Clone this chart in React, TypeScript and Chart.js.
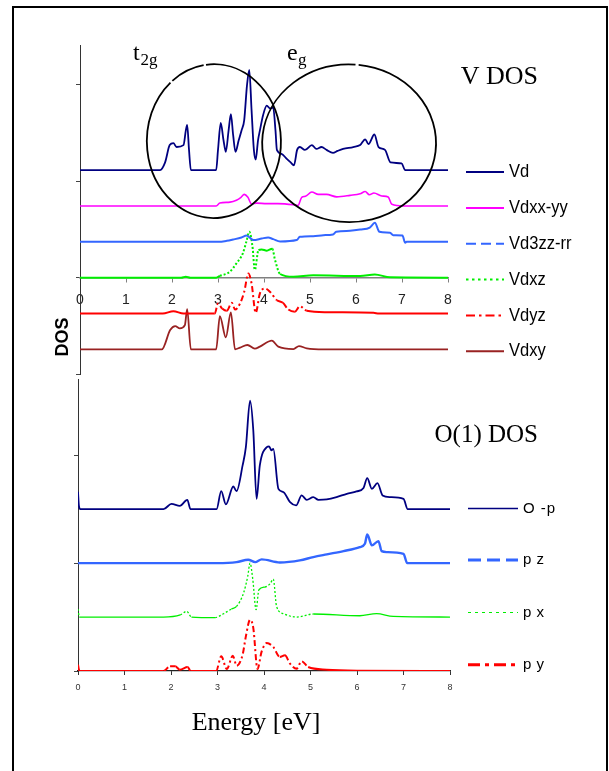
import React, { useEffect, useRef } from 'react';
import { Chart, registerables } from 'chart.js';

Chart.register(...registerables);

type Pt = [number, number];

// ---------- shared energy axis ----------
const energyMin = 0;
const energyMax = 8;

// ---------- V DOS panel (values relative to each curve's own baseline) ----------
const vLabels = ['Vd', 'Vdxx-yy', 'Vd3zz-rr', 'Vdxz', 'Vdyz', 'Vdxy'];
const vOffsets = [11.16, 7.44, 3.72, 0, -3.72, -7.44];

const vd: Pt[] = [
  [0, 0], [1.74, 0], [1.85, 0.8], [1.95, 2.6], [2.03, 2.8], [2.1, 2.4], [2.25, 2.6], [2.3, 4.1], [2.33, 4.7],
  [2.37, 2.1], [2.41, 0], [2.96, 0], [3.0, 2.1], [3.06, 4.9], [3.12, 3.1], [3.17, 1.9], [3.23, 4.1], [3.28, 5.8],
  [3.33, 3.6], [3.38, 1.9], [3.45, 3.1], [3.51, 4.1], [3.57, 5.2], [3.63, 8.8], [3.68, 10.4], [3.73, 6.2],
  [3.78, 2.1], [3.82, 1.1], [3.87, 3.1], [3.91, 4.1], [3.98, 5.7], [4.06, 6.7], [4.13, 6.4], [4.2, 6.5],
  [4.25, 4.1], [4.28, 2.1], [4.38, 1.7], [4.49, 1.2], [4.58, 0.8], [4.65, 0.5], [4.72, 2.1], [4.78, 2.4],
  [4.89, 2.1], [5.04, 2.6], [5.14, 2.2], [5.25, 2.4], [5.36, 2.1], [5.5, 1.8], [5.6, 2.0], [5.72, 2.2],
  [5.94, 2.4], [6.09, 2.6], [6.2, 3.2], [6.27, 2.7], [6.4, 3.7], [6.49, 2.4], [6.63, 2.1], [6.75, 0.8],
  [6.99, 0.7], [7.07, 0], [8, 0],
];
const vdxxyy: Pt[] = [
  [0, 0], [2.96, 0], [3.04, 0.3], [3.26, 0.4], [3.4, 0.6], [3.5, 0.9], [3.57, 1.2], [3.65, 0.9], [3.73, 0.2],
  [3.84, 0.3], [4.06, 0.25], [4.3, 0.25], [4.64, 0.13], [4.74, 0.05], [4.82, 0.9], [4.9, 1.0], [5.04, 1.45],
  [5.18, 1.2], [5.36, 1.2], [5.58, 0.95], [5.87, 1.1], [6.09, 1.27], [6.2, 1.5], [6.29, 1.17], [6.39, 1.35],
  [6.56, 1.04], [6.7, 0.93], [6.78, 0.17], [7.03, 0], [8, 0],
];
const vd3zzrr: Pt[] = [
  [0, 0], [3.0, 0], [3.19, 0.1], [3.33, 0.24], [3.51, 0.45], [3.62, 0.65], [3.77, 0.18], [3.95, 0.34],
  [4.09, 0.45], [4.2, 0.28], [4.35, 0.03], [4.71, 0.18], [4.78, 0.52], [5.07, 0.59], [5.29, 0.69], [5.5, 0.76],
  [5.57, 1.04], [5.87, 1.14], [6.09, 1.27], [6.3, 1.48], [6.41, 1.97], [6.51, 1.04], [6.74, 0.93], [6.81, 0.69],
  [7.01, 0.65], [7.07, -0.1], [7.1, 0], [8, 0],
];
const vdxz: Pt[] = [
  [0, 0], [2.2, 0], [2.3, 0.1], [2.4, 0], [2.96, 0], [3.04, 0.18], [3.26, 0.62], [3.4, 1.48], [3.54, 2.52],
  [3.62, 3.8], [3.68, 4.77], [3.75, 3.21], [3.8, 0.8], [3.88, 2.87], [3.95, 2.93], [4.06, 2.8], [4.18, 3.0],
  [4.24, 1.83], [4.35, 0.38], [4.64, 0.1], [5.07, 0.24], [6.09, 0.18], [6.41, 0.34], [6.74, 0.03], [8, 0],
];
const vdyz: Pt[] = [
  [0, 0], [1.8, 0], [2.03, 0.24], [2.25, 0], [2.93, 0], [3.0, 1.04], [3.09, 0.52], [3.19, 0.28], [3.3, 1.11],
  [3.37, 0.41], [3.48, 1.04], [3.57, 2.25], [3.66, 4.15], [3.73, 3.11], [3.82, 0.07], [3.91, 2.07], [4.02, 2.59],
  [4.13, 2.25], [4.28, 1.38], [4.41, 1.11], [4.53, 0.41], [4.67, 0.18], [4.78, 0.76], [4.93, 0.28], [5.36, 0.13],
  [6.38, 0.07], [6.5, 0], [8, 0],
];
const vdxy: Pt[] = [
  [0, 0], [1.78, 0], [1.96, 2.0], [2.07, 2.41], [2.17, 2.18], [2.28, 2.52], [2.33, 4.18], [2.41, 0], [2.96, 0],
  [3.04, 3.45], [3.17, 1.24], [3.28, 3.83], [3.37, 0], [3.48, 0.18], [3.64, 0.45], [3.8, 0.07], [3.91, 0.28],
  [4.17, 0.9], [4.31, 0.28], [4.64, 0.03], [4.76, 0.34], [4.93, 0.1], [5.3, 0], [8, 0],
];

// ---------- O(1) DOS panel ----------
const oLabels = ['O -p', 'p z', 'p x', 'p y'];
const oOffsets = [15, 10, 5, 0];

const op: Pt[] = [
  [0, 1.6], [0.02, 0.3], [0.05, 0], [1.84, 0], [2.01, 0.49], [2.19, 0.31], [2.35, 0.86], [2.42, 0], [2.98, 0],
  [3.08, 1.67], [3.18, 0.44], [3.34, 2.1], [3.41, 1.67], [3.54, 4.05], [3.61, 5.74], [3.7, 10.06], [3.77, 7.29],
  [3.84, 0.95], [3.91, 4.05], [4.06, 5.74], [4.11, 5.81], [4.16, 5.44], [4.2, 5.58], [4.31, 1.88], [4.42, 1.57],
  [4.56, 0.65], [4.69, 0.34], [4.81, 1.27], [4.92, 0.86], [5.06, 1.11], [5.17, 0.86], [5.35, 0.9], [5.56, 1.11],
  [5.78, 1.42], [5.99, 1.64], [6.14, 1.97], [6.22, 2.87], [6.32, 1.88], [6.44, 2.41], [6.55, 1.27], [6.71, 1.11],
  [7.0, 0.95], [7.09, 0], [8, 0],
];
const pz: Pt[] = [
  [0, 0], [3.0, 0], [3.41, 0.09], [3.66, 0.31], [3.81, 0.09], [3.95, 0.34], [4.34, 0.06], [4.77, 0.25],
  [5.06, 0.56], [5.35, 0.81], [5.71, 1.11], [6.06, 1.48], [6.17, 1.79], [6.22, 2.66], [6.32, 1.64], [6.46, 2.04],
  [6.53, 1.11], [6.64, 1.02], [7.0, 0.86], [7.08, 0], [8, 0],
];
const px: Pt[] = [
  [0, 0.74], [0.03, 0], [1.84, 0], [2.2, 0.2], [2.34, 0.53], [2.44, 0], [2.95, -0.05], [3.13, 0.31], [3.3, 0.74],
  [3.41, 0.99], [3.56, 2.22], [3.65, 3.77], [3.7, 5.0], [3.76, 3.45], [3.83, 0.68], [3.89, 2.53], [4.02, 2.78],
  [4.13, 3.08], [4.2, 3.52], [4.27, 0.99], [4.42, 0.31], [4.7, 0], [5.06, 0.28], [6.06, 0.12], [6.42, 0.31],
  [6.78, 0.06], [8, 0],
];
const py: Pt[] = [
  [0, 0.58], [0.03, 0], [1.84, 0], [1.98, 0.44], [2.09, 0.44], [2.19, 0.12], [2.36, 0.37], [2.42, 0], [2.97, 0],
  [3.08, 1.36], [3.2, 0.19], [3.33, 1.42], [3.41, 0.49], [3.54, 1.51], [3.61, 3.21], [3.7, 4.75], [3.77, 3.98],
  [3.86, 0.19], [3.95, 1.82], [4.06, 2.59], [4.2, 2.22], [4.34, 1.3], [4.45, 1.45], [4.56, 0.68], [4.7, 0.21],
  [4.81, 0.9], [4.95, 0.37], [5.35, 0.12], [6.06, 0.03], [8, 0],
];

// ---------- styles ----------
const SANS = '"Liberation Sans", Arial, sans-serif';
const SERIF = '"Liberation Serif", "Times New Roman", serif';

type Style = { color: string; width: number; steepDash?: number[]; legendDash: number[]; legendWidth: number };

const vStyles: Style[] = [
  { color: '#000080', width: 1.8, legendDash: [], legendWidth: 2 },
  { color: '#ff00ff', width: 1.6, legendDash: [], legendWidth: 2 },
  { color: '#3366ff', width: 2, legendDash: [10, 5], legendWidth: 2 },
  { color: '#00ee00', width: 2, steepDash: [2, 2], legendDash: [2.5, 3.5], legendWidth: 2 },
  { color: '#ff0000', width: 2, steepDash: [6, 3, 2, 3], legendDash: [9, 4, 2.5, 4], legendWidth: 2 },
  { color: '#992222', width: 1.8, legendDash: [], legendWidth: 2 },
];
const oStyles: Style[] = [
  { color: '#000080', width: 1.8, legendDash: [], legendWidth: 1.5 },
  { color: '#3366ff', width: 2.4, legendDash: [13, 6], legendWidth: 3 },
  { color: '#00ee00', width: 1.3, steepDash: [2, 2], legendDash: [3, 4], legendWidth: 1 },
  { color: '#ff0000', width: 2, steepDash: [6, 3, 2, 3], legendDash: [12, 5, 4, 5], legendWidth: 3 },
];

const vSeries = [vd, vdxxyy, vd3zzrr, vdxz, vdyz, vdxy];
const oSeries = [op, pz, px, py];

function buildDatasets(series: Pt[][], offsets: number[], labels: string[], styles: Style[]) {
  return series.map((pts, i) => {
    const st = styles[i];
    const ds: any = {
      label: labels[i],
      data: pts.map(([e, v]) => ({ x: e, y: offsets[i] + v })),
      borderColor: st.color,
      borderWidth: st.width,
      pointRadius: 0,
      fill: false,
      cubicInterpolationMode: 'monotone',
      borderCapStyle: 'butt',
      borderJoinStyle: 'round',
    };
    if (st.steepDash) {
      const dash = st.steepDash;
      ds.segment = {
        borderDash: (c: any) => (Math.abs(c.p1.y - c.p0.y) > 3 ? dash : undefined),
      };
    }
    return ds;
  });
}

function drawText(
  ctx: CanvasRenderingContext2D, s: string, x: number, y: number, font: string,
  align: CanvasTextAlign = 'left', sx = 1, baseline: CanvasTextBaseline = 'alphabetic', spacing = '0px',
) {
  ctx.save();
  ctx.translate(x, y);
  ctx.scale(sx, 1);
  ctx.font = font;
  ctx.textAlign = align;
  ctx.textBaseline = baseline;
  (ctx as any).letterSpacing = spacing;
  ctx.fillStyle = '#000';
  ctx.fillText(s, 0, 0);
  ctx.restore();
}

function drawLegendLine(ctx: CanvasRenderingContext2D, x0: number, x1: number, y: number, st: Style) {
  ctx.save();
  ctx.strokeStyle = st.color;
  ctx.lineWidth = st.legendWidth;
  ctx.setLineDash(st.legendDash);
  ctx.lineCap = 'butt';
  ctx.beginPath();
  ctx.moveTo(x0, y);
  ctx.lineTo(x1, y);
  ctx.stroke();
  ctx.restore();
}

// ellipses marking t2g / eg regions (in data units: centre energy, centre level, radii)
const regionEllipses = [
  { e: 2.91, u: 14.17, re: 1.457, ru: 7.98, gaps: [-2.257, -1.706] },
  { e: 5.85, u: 13.95, re: 1.89, ru: 8.19, gaps: [-1.479] },
];

const topDecor = {
  id: 'topDecor',
  afterDraw(chart: any) {
    const { ctx, scales } = chart;
    const xs = scales.x;
    const ys = scales.y;
    ctx.save();
    ctx.strokeStyle = '#000';
    ctx.lineWidth = 1.8;
    regionEllipses.forEach((el) => {
      const cx = xs.getPixelForValue(el.e);
      const cy = ys.getPixelForValue(el.u);
      const rx = xs.getPixelForValue(el.e + el.re) - cx;
      const ry = cy - ys.getPixelForValue(el.u + el.ru);
      const w = 0.018;
      const g = el.gaps;
      for (let i = 0; i < g.length; i++) {
        const a0 = g[i] + w;
        const a1 = i + 1 < g.length ? g[i + 1] - w : g[0] - w + 2 * Math.PI;
        ctx.beginPath();
        ctx.ellipse(cx, cy, rx, ry, 0, a0, a1);
        ctx.stroke();
      }
    });
    ctx.restore();

    // region labels
    drawText(ctx, 't', 133, 60, `24px ${SERIF}`);
    drawText(ctx, '2g', 140.5, 65, `17px ${SERIF}`);
    drawText(ctx, 'e', 287, 60, `24px ${SERIF}`);
    drawText(ctx, 'g', 298, 65, `17px ${SERIF}`);
    drawText(ctx, 'V DOS', 538, 84, `26px ${SERIF}`, 'right');

    // legend
    vLabels.forEach((lab, i) => {
      const y = ys.getPixelForValue(vOffsets[i] - 0.2);
      drawLegendLine(ctx, 466, 504, y, vStyles[i]);
      drawText(ctx, lab, 509, y, `19px ${SANS}`, 'left', 0.87, 'middle');
    });
  },
};

const bottomDecor = {
  id: 'bottomDecor',
  afterDraw(chart: any) {
    const { ctx, scales } = chart;
    const ys = scales.y;
    drawText(ctx, 'O(1) DOS', 538, 442, `25px ${SERIF}`, 'right');
    const legendShift = [0.05, 0.29, 0.42, 0.58];
    oLabels.forEach((lab, i) => {
      const y = ys.getPixelForValue(oOffsets[i] + legendShift[i]);
      drawLegendLine(ctx, 468, 518, y, oStyles[i]);
      drawText(ctx, lab, 523, y, `15px ${SANS}`, 'left', 1, 'middle', i === 0 ? '1px' : '0.5px');
    });
    // axis titles
    ctx.save();
    ctx.translate(63, 337);
    ctx.rotate(-Math.PI / 2);
    drawText(ctx, 'DOS', 0, 0, `bold 18px ${SANS}`, 'center', 1, 'middle');
    ctx.restore();
    drawText(ctx, 'Energy [eV]', 256, 730, `26px ${SERIF}`, 'center');
  },
};

function useChart(ref: React.RefObject<HTMLCanvasElement>, make: (c: HTMLCanvasElement) => Chart) {
  useEffect(() => {
    if (!ref.current) return;
    const ch = make(ref.current);
    return () => ch.destroy();
  }, []);
}

export default function App() {
  const topRef = useRef<HTMLCanvasElement>(null);
  const botRef = useRef<HTMLCanvasElement>(null);

  useChart(topRef as any, (c) =>
    new Chart(c, {
      type: 'line',
      data: { datasets: buildDatasets(vSeries, vOffsets, vLabels, vStyles) },
      options: {
        animation: false,
        responsive: false,
        maintainAspectRatio: false,
        events: [],
        layout: { padding: { left: 76, right: 161, top: 45, bottom: 397 } },
        plugins: { legend: { display: false }, tooltip: { enabled: false } },
        scales: {
          x: {
            type: 'linear',
            min: energyMin,
            max: energyMax,
            position: { y: 0 } as any,
            ticks: { stepSize: 1, includeBounds: false, font: { family: SANS, size: 14 }, color: '#222', padding: 10, maxRotation: 0, autoSkip: false },
            grid: { drawOnChartArea: false, drawTicks: true, tickLength: 4, color: '#808080', lineWidth: 1 },
            border: { color: '#808080', width: 1.5 },
          },
          y: {
            type: 'linear',
            min: -10,
            max: 24.15,
            position: 'left',
            ticks: { display: false, stepSize: 10, includeBounds: false },
            grid: { drawOnChartArea: false, drawTicks: true, tickLength: 4, color: '#444' },
            border: { color: '#333', width: 1 },
            afterFit: (s: any) => { s.width = 4; },
          },
        },
      },
      plugins: [topDecor],
    } as any),
  );

  useChart(botRef as any, (c) =>
    new Chart(c, {
      type: 'line',
      data: { datasets: buildDatasets(oSeries, oOffsets, oLabels, oStyles) },
      options: {
        animation: false,
        responsive: false,
        maintainAspectRatio: false,
        events: [],
        layout: { padding: { left: 74, right: 159, top: 379, bottom: 80 } },
        plugins: { legend: { display: false }, tooltip: { enabled: false } },
        scales: {
          x: {
            type: 'linear',
            min: energyMin,
            max: energyMax,
            position: 'bottom',
            ticks: { stepSize: 1, includeBounds: false, font: { family: SANS, size: 9 }, color: '#333', padding: 7, maxRotation: 0, autoSkip: false },
            grid: { drawOnChartArea: false, drawTicks: true, tickLength: 4, color: '#333' },
            border: { color: '#222', width: 1.2 },
            afterFit: (s: any) => { s.height = 20; },
          },
          y: {
            type: 'linear',
            min: 0,
            max: 27.06,
            position: 'left',
            ticks: { display: false, stepSize: 10, includeBounds: false },
            grid: { drawOnChartArea: false, drawTicks: true, tickLength: 4, color: '#444' },
            border: { color: '#333', width: 1 },
            afterFit: (s: any) => { s.width = 4; },
          },
        },
      },
      plugins: [bottomDecor],
    } as any),
  );

  const canvasStyle: React.CSSProperties = { position: 'absolute', left: 0, top: 0, width: 609, height: 771 };
  return (
    <div style={{ position: 'fixed', left: 0, top: 0, width: 609, height: 771, overflow: 'hidden', background: '#fff' }}>
      <div style={{ position: 'absolute', left: 12, top: 6, width: 596, height: 900, border: '2px solid #000', boxSizing: 'border-box' }} />
      <canvas ref={topRef} width={609} height={771} style={canvasStyle} />
      <canvas ref={botRef} width={609} height={771} style={canvasStyle} />
    </div>
  );
}
